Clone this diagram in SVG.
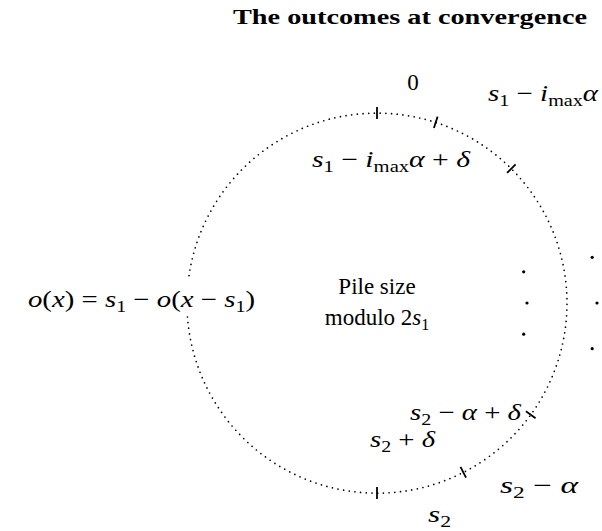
<svg xmlns="http://www.w3.org/2000/svg" width="602" height="531" viewBox="0 0 602 531">
<style>
.t{font-family:"Liberation Serif","DejaVu Serif",serif;font-size:23px;fill:#000}
.m{font-style:italic}
.sub{font-size:16px;font-style:normal}
.title{font-family:"Liberation Serif","DejaVu Serif",serif;font-weight:bold;font-size:21px;fill:#000}
.circ{fill:none;stroke:#000;stroke-width:1.7;stroke-dasharray:0 5.7;stroke-linecap:round}
.tick{stroke:#000;stroke-width:1.8;fill:none}
.dot{fill:#000}
</style>
<rect width="602" height="531" fill="#fff"/>
<text id="title" class="title" x="410" y="24" text-anchor="middle" textLength="354" lengthAdjust="spacingAndGlyphs">The outcomes at convergence</text>

<g id="circle">
  <path class="circ" d="M187.5 317 A190 190 0 1 0 188.8 277"/>
</g>

<g id="center-label">
  <text class="t" x="377" y="294" text-anchor="middle">Pile size</text>
  <text class="t" x="377" y="325" text-anchor="middle">modulo 2<tspan class="m">s</tspan><tspan class="sub" dy="5">1</tspan></text>
</g>

<g id="left-label">
  <text class="t" x="28" y="307" textLength="227" lengthAdjust="spacingAndGlyphs"><tspan class="m">o</tspan>(<tspan class="m">x</tspan>) = <tspan class="m">s</tspan><tspan class="sub" dy="5">1</tspan><tspan dy="-5"> − </tspan><tspan class="m">o</tspan>(<tspan class="m">x</tspan> − <tspan class="m">s</tspan><tspan class="sub" dy="5">1</tspan><tspan dy="-5">)</tspan></text>
</g>

<g id="tick-0">
  <line class="tick" x1="377" y1="107" x2="377" y2="119"/>
  <text class="t" x="413" y="90" text-anchor="middle">0</text>
</g>
<g id="tick-s1-imax-alpha">
  <line class="tick" x1="433.9" y1="128" x2="437.6" y2="116.6"/>
  <text class="t" x="488" y="101" textLength="110" lengthAdjust="spacingAndGlyphs"><tspan class="m">s</tspan><tspan class="sub" dy="5">1</tspan><tspan dy="-5"> − </tspan><tspan class="m">i</tspan><tspan class="sub" dy="5">max</tspan><tspan class="m" dy="-5">α</tspan></text>
</g>
<g id="tick-s1-imax-alpha-delta">
  <line class="tick" x1="507.1" y1="172.9" x2="515.6" y2="164.4"/>
  <text class="t" x="312" y="167" textLength="158" lengthAdjust="spacingAndGlyphs"><tspan class="m">s</tspan><tspan class="sub" dy="5">1</tspan><tspan dy="-5"> − </tspan><tspan class="m">i</tspan><tspan class="sub" dy="5">max</tspan><tspan class="m" dy="-5">α</tspan> + <tspan class="m">δ</tspan></text>
</g>
<g id="tick-s2">
  <line class="tick" x1="377" y1="487" x2="377" y2="499"/>
  <text class="t" x="428" y="522" textLength="23" lengthAdjust="spacingAndGlyphs"><tspan class="m">s</tspan><tspan class="sub" dy="5">2</tspan></text>
</g>
<g id="tick-s2-alpha">
  <line class="tick" x1="460.5" y1="466.9" x2="466" y2="477.6"/>
  <text class="t" x="500" y="493" textLength="78" lengthAdjust="spacingAndGlyphs"><tspan class="m">s</tspan><tspan class="sub" dy="5">2</tspan><tspan dy="-5"> − </tspan><tspan class="m">α</tspan></text>
</g>
<g id="tick-s2-alpha-delta">
  <line class="tick" x1="525.9" y1="411.2" x2="535.6" y2="418.2"/>
  <text class="t" x="410" y="420" textLength="111" lengthAdjust="spacingAndGlyphs"><tspan class="m">s</tspan><tspan class="sub" dy="5">2</tspan><tspan dy="-5"> − </tspan><tspan class="m">α</tspan> + <tspan class="m">δ</tspan></text>
</g>
<g id="label-s2-delta">
  <text class="t" x="370" y="447" textLength="65" lengthAdjust="spacingAndGlyphs"><tspan class="m">s</tspan><tspan class="sub" dy="5">2</tspan><tspan dy="-5"> + </tspan><tspan class="m">δ</tspan></text>
</g>

<g id="vdots">
  <circle class="dot" cx="523.7" cy="271.8" r="1.6"/>
  <circle class="dot" cx="527" cy="303" r="1.6"/>
  <circle class="dot" cx="523.7" cy="334.2" r="1.6"/>
  <circle class="dot" cx="592.2" cy="257.3" r="1.6"/>
  <circle class="dot" cx="597" cy="303" r="1.6"/>
  <circle class="dot" cx="592.2" cy="348.7" r="1.6"/>
</g>
</svg>
